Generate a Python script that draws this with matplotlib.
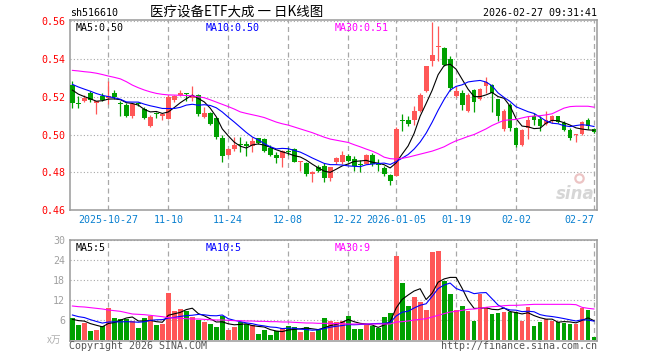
import numpy as np
import pandas as pd
import matplotlib
matplotlib.use('Agg')
import matplotlib.pyplot as plt

# 516610 daily K, 88 trading days 2025-10-17 .. 2026-02-27
opens = [0.5265, 0.5168, 0.5177, 0.5218, 0.5168, 0.5204, 0.5191, 0.5221, 0.5168, 0.5154,
         0.5098, 0.5168, 0.5133, 0.5046, 0.5115, 0.5100, 0.5084, 0.5185, 0.5207, 0.5218,
         0.5193, 0.5208, 0.5095, 0.5112, 0.5090, 0.4982, 0.4893, 0.4923, 0.4952, 0.4948,
         0.4940, 0.4979, 0.4975, 0.4926, 0.4893, 0.4874, 0.4911, 0.4923, 0.4852, 0.4849,
         0.4791, 0.4826, 0.4835, 0.4768, 0.4853, 0.4857, 0.4888, 0.4870, 0.4842, 0.4846,
         0.4891, 0.4842, 0.4823, 0.4783, 0.4780, 0.5078, 0.5077, 0.5075, 0.5125, 0.5230,
         0.5389, 0.5465, 0.5461, 0.5401, 0.5206, 0.5219, 0.5125, 0.5236, 0.5188, 0.5255,
         0.5263, 0.5188, 0.5028, 0.5154, 0.5033, 0.4945, 0.5037, 0.5098, 0.5081, 0.5054,
         0.5072, 0.5098, 0.5063, 0.5025, 0.4998, 0.5002, 0.5077, 0.5028]
highs = [0.5286, 0.5204, 0.5207, 0.5230, 0.5180, 0.5218, 0.5286, 0.5235, 0.5177, 0.5165,
         0.5168, 0.5175, 0.5147, 0.5102, 0.5122, 0.5112, 0.5207, 0.5212, 0.5236, 0.5220,
         0.5256, 0.5214, 0.5147, 0.5120, 0.5095, 0.4996, 0.4928, 0.4985, 0.4988, 0.4967,
         0.4985, 0.4984, 0.4980, 0.4944, 0.4909, 0.4918, 0.4935, 0.4926, 0.4860, 0.4856,
         0.4809, 0.4839, 0.4849, 0.4830, 0.4879, 0.4914, 0.4896, 0.4884, 0.4866, 0.4896,
         0.4900, 0.4870, 0.4835, 0.4791, 0.5042, 0.5108, 0.5098, 0.5150, 0.5218, 0.5365,
         0.5594, 0.5574, 0.5464, 0.5414, 0.5258, 0.5235, 0.5218, 0.5242, 0.5247, 0.5306,
         0.5266, 0.5190, 0.5133, 0.5168, 0.5042, 0.5028, 0.5100, 0.5112, 0.5098, 0.5125,
         0.5102, 0.5100, 0.5072, 0.5037, 0.5004, 0.5072, 0.5089, 0.5037]
lows = [0.5142, 0.5142, 0.5172, 0.5172, 0.5107, 0.5177, 0.5160, 0.5190, 0.5098, 0.5093,
        0.5088, 0.5150, 0.5081, 0.5040, 0.5090, 0.5075, 0.5081, 0.5175, 0.5203, 0.5180,
        0.5180, 0.5100, 0.5086, 0.5049, 0.4975, 0.4856, 0.4890, 0.4915, 0.4905, 0.4888,
        0.4908, 0.4949, 0.4909, 0.4888, 0.4849, 0.4826, 0.4891, 0.4853, 0.4809, 0.4782,
        0.4747, 0.4800, 0.4747, 0.4756, 0.4844, 0.4844, 0.4853, 0.4809, 0.4802, 0.4843,
        0.4832, 0.4809, 0.4782, 0.4735, 0.4778, 0.5020, 0.5046, 0.5050, 0.5120, 0.5226,
        0.5362, 0.5390, 0.5362, 0.5229, 0.5200, 0.5128, 0.5120, 0.5122, 0.5182, 0.5220,
        0.5118, 0.5072, 0.5019, 0.5019, 0.4932, 0.4940, 0.4978, 0.5049, 0.5019, 0.5049,
        0.5063, 0.5063, 0.5019, 0.4972, 0.4961, 0.4996, 0.5028, 0.5007]
closes = [0.5168, 0.5162, 0.5195, 0.5181, 0.5177, 0.5182, 0.5204, 0.5200, 0.5161, 0.5098,
          0.5160, 0.5160, 0.5086, 0.5095, 0.5110, 0.5108, 0.5200, 0.5203, 0.5222, 0.5215,
          0.5205, 0.5110, 0.5112, 0.5054, 0.4989, 0.4884, 0.4925, 0.4946, 0.4947, 0.4940,
          0.4965, 0.4953, 0.4914, 0.4891, 0.4874, 0.4911, 0.4907, 0.4856, 0.4858, 0.4791,
          0.4804, 0.4809, 0.4768, 0.4826, 0.4874, 0.4891, 0.4861, 0.4835, 0.4838, 0.4891,
          0.4842, 0.4836, 0.4793, 0.4752, 0.5027, 0.5072, 0.5055, 0.5125, 0.5208, 0.5362,
          0.5420, 0.5471, 0.5366, 0.5245, 0.5229, 0.5154, 0.5207, 0.5170, 0.5243, 0.5277,
          0.5219, 0.5096, 0.5125, 0.5035, 0.4945, 0.5023, 0.5077, 0.5077, 0.5046, 0.5077,
          0.5098, 0.5067, 0.5025, 0.4984, 0.5002, 0.5067, 0.5046, 0.5014]
volumes = [6.5, 4.6, 5.2, 2.8, 3.0, 4.2, 9.6, 6.6, 6.2, 6.4,
           5.7, 3.6, 6.5, 7.2, 4.5, 4.8, 14.1, 8.7, 9.3, 8.7,
           6.9, 6.0, 5.4, 4.8, 3.9, 7.2, 3.0, 3.9, 5.4, 4.8,
           4.5, 1.8, 3.0, 1.5, 2.7, 3.6, 4.2, 3.9, 2.4, 3.9,
           2.4, 3.0, 6.6, 5.7, 5.5, 5.7, 7.2, 3.3, 3.3, 4.5,
           4.2, 3.6, 6.9, 8.1, 25.2, 17.1, 10.2, 12.9, 11.5, 9.0,
           26.5, 26.8, 17.8, 13.8, 9.0, 10.2, 8.7, 5.7, 13.9, 9.9,
           7.8, 8.1, 8.4, 8.5, 8.3, 5.8, 9.9, 4.1, 5.3, 6.2,
           5.8, 5.3, 5.0, 4.8, 4.8, 9.5, 9.1, 0.8]
# MA30 lines need a month of history that is not on the chart, so read them directly
ma30_price = [0.5340, 0.5337, 0.5333, 0.5330, 0.5325, 0.5318, 0.5310, 0.5303, 0.5295, 0.5280,
              0.5262, 0.5248, 0.5236, 0.5226, 0.5218, 0.5213, 0.5210, 0.5209, 0.5208, 0.5207,
              0.5205, 0.5200, 0.5195, 0.5184, 0.5172, 0.5160, 0.5148, 0.5135, 0.5120, 0.5112,
              0.5105, 0.5098, 0.5090, 0.5078, 0.5066, 0.5057, 0.5050, 0.5040, 0.5030, 0.5020,
              0.5010, 0.4998, 0.4986, 0.4976, 0.4970, 0.4964, 0.4958, 0.4946, 0.4935, 0.4923,
              0.4912, 0.4898, 0.4880, 0.4872, 0.4870, 0.4874, 0.4880, 0.4888, 0.4896, 0.4904,
              0.4912, 0.4923, 0.4935, 0.4952, 0.4967, 0.4978, 0.4990, 0.5000, 0.5015, 0.5030,
              0.5048, 0.5062, 0.5075, 0.5078, 0.5080, 0.5088, 0.5095, 0.5098, 0.5100, 0.5104,
              0.5110, 0.5125, 0.5140, 0.5148, 0.5150, 0.5150, 0.5150, 0.5145]
ma30_vol = [10.2, 10.0, 9.9, 9.7, 9.5, 9.3, 9.0, 8.8, 8.6, 8.2,
            7.8, 7.7, 7.6, 7.4, 7.2, 7.0, 6.7, 6.6, 6.5, 6.4,
            6.3, 6.3, 6.2, 6.1, 6.0, 6.0, 5.9, 5.8, 5.8, 5.7,
            5.7, 5.6, 5.6, 5.5, 5.5, 5.4, 5.4, 5.3, 5.2, 5.1,
            5.1, 5.0, 5.0, 5.0, 4.9, 4.9, 4.8, 4.8, 4.8, 4.8,
            4.8, 4.8, 4.8, 4.8, 5.4, 5.5, 5.7, 6.0, 6.2, 6.4,
            6.9, 7.4, 7.9, 8.4, 8.6, 8.9, 9.2, 9.3, 9.5, 9.8,
            10.0, 10.1, 10.3, 10.4, 10.4, 10.5, 10.6, 10.7, 10.7, 10.7,
            10.7, 10.7, 10.7, 10.7, 10.6, 9.8, 9.5, 9.3]
# 9 sessions before the window, estimated from where MA5 / MA10 start
prior_closes = [0.5300, 0.5310, 0.5290, 0.5300, 0.5280, 0.5270, 0.5260, 0.5240, 0.5240]
prior_volumes = [9.5, 8.0, 9.0, 8.5, 9.0, 6.5, 6.0, 6.5, 5.5]

tick_idx = [6, 16, 26, 36, 46, 54, 64, 74, 87]
tick_labels = ['2025-10-27', '11-10', '11-24', '12-08', '12-22', '2026-01-05', '01-19', '02-02', '02-27']
price_ticks = [0.46, 0.48, 0.50, 0.52, 0.54, 0.56]
vol_ticks = [6, 12, 18, 24, 30]

RED = '#ff5757'
GREEN = '#00a000'
GRID = '#a8a8a8'
MONO = 'DejaVu Sans Mono'
CJK = ['Noto Sans CJK SC', 'DejaVu Sans']

W, H = 660, 360
def px(x, y):
    return x / W, 1 - y / H

o = np.array(opens)
c = np.array(closes)
hi = np.array(highs)
lo = np.array(lows)
v = np.array(volumes)
x = np.arange(len(c))
colors = np.where(c >= o, RED, GREEN)

n0 = len(prior_closes)
call = pd.Series(prior_closes + closes)
ma5 = call.rolling(5).mean().values[n0:]
ma10 = call.rolling(10).mean().values[n0:]
vall = pd.Series(prior_volumes + volumes)
vma5 = vall.rolling(5).mean().values[n0:]
vma10 = vall.rolling(10).mean().values[n0:]

fig = plt.figure(figsize=(W / 100, H / 100), dpi=100)
fig.patch.set_facecolor('white')
ax = fig.add_axes([70 / W, 1 - 210 / H, 527 / W, 190 / H])
axv = fig.add_axes([70 / W, 1 - 341 / H, 527 / W, 101 / H])

for a in (ax, axv):
    a.set_xlim(-0.4, 87.5)
    for s in a.spines.values():
        s.set_color('#9a9a9a')
        s.set_linewidth(1.1)
    a.set_xticks(tick_idx)
    a.tick_params(length=0)
    a.grid(axis='x', color=GRID, lw=0.9, ls=(0, (4, 2.8)))
    a.grid(axis='y', color=GRID, lw=0.8, ls=(0, (1, 2)))
    a.set_axisbelow(True)

# price panel
ax.set_ylim(0.4604, 0.5607)
ax.set_yticks(price_ticks)
ax.set_yticklabels([f'{p:.2f}' for p in price_ticks], color='red', fontsize=7.2, family=MONO)
ax.set_xticklabels(tick_labels, color='#0a80d0', fontsize=7.2, family=MONO)
ax.tick_params(axis='y', pad=3.5)
ax.tick_params(axis='x', pad=3.5)
ax.get_xticklabels()[-1].set_ha('right')

minh = (0.5607 - 0.4604) / 190
ax.vlines(x, lo, hi, colors=colors, lw=0.9, zorder=2)
ax.bar(x, np.maximum(np.abs(c - o), minh), bottom=np.minimum(o, c), width=0.8,
       color=colors, lw=0, zorder=3)
ax.plot(x, ma5, color='black', lw=0.8, zorder=4)
ax.plot(x, ma10, color='#0000ff', lw=0.8, zorder=4)
ax.plot(x, ma30_price, color='#ff00ff', lw=0.8, zorder=4)

ax.text(0.01, 0.985, f'MA5:{ma5[-1]:.2f}', transform=ax.transAxes, va='top',
        fontsize=7.2, family=MONO, color='black')
ax.text(0.257, 0.985, f'MA10:{ma10[-1]:.2f}', transform=ax.transAxes, va='top',
        fontsize=7.2, family=MONO, color='#0000ff')
ax.text(0.503, 0.985, f'MA30:{ma30_price[-1]:.2f}', transform=ax.transAxes, va='top',
        fontsize=7.2, family=MONO, color='#ff00ff')

# sina watermark
ax.text(0.995, 0.035, 'sina', transform=ax.transAxes, ha='right', va='bottom',
        fontsize=12, fontweight='bold', style='italic', color='#d6d6d6', zorder=1)
ax.plot([0.965], [0.17], 'o', transform=ax.transAxes, ms=6, mfc='none',
        mec='#ecc4c4', mew=1.6, zorder=1)

# volume panel
axv.set_ylim(-0.3, 30)
axv.set_yticks(vol_ticks)
axv.set_yticklabels([str(t) for t in vol_ticks], color='#a0a0a0', fontsize=7.2, family=MONO)
axv.set_xticklabels([])
axv.tick_params(axis='y', pad=3.5)
axv.bar(x, v, width=0.8, color=colors, lw=0, zorder=3)
axv.plot(x, vma5, color='black', lw=0.8, zorder=4)
axv.plot(x, vma10, color='#0000ff', lw=0.8, zorder=4)
axv.plot(x, ma30_vol, color='#ff00ff', lw=0.8, zorder=4)

axv.text(0.01, 0.97, f'MA5:{int(vma5[-1])}', transform=axv.transAxes, va='top',
         fontsize=7.2, family=MONO, color='black')
axv.text(0.257, 0.97, f'MA10:{int(vma10[-1])}', transform=axv.transAxes, va='top',
         fontsize=7.2, family=MONO, color='#0000ff')
axv.text(0.503, 0.97, f'MA30:{int(ma30_vol[-1])}', transform=axv.transAxes, va='top',
         fontsize=7.2, family=MONO, color='#ff00ff')

# header and footer
fig.text(*px(70, 13.5), 'sh516610', fontsize=7.2, family=MONO, va='center')
fig.text(*px(150, 13), '医疗设备ETF大成 一 日K线图', fontsize=9.7, family=CJK, va='center')
fig.text(*px(597, 13.5), '2026-02-27 09:31:41', fontsize=7.2, family=MONO, va='center', ha='right')
fig.text(*px(47, 340), 'x万', fontsize=7, family=CJK, va='center', color='#b0b0b0', style='italic')
fig.text(*px(69, 346), 'Copyright 2026 SINA.COM', fontsize=7.2, family=MONO, va='center', color='#555555')
fig.text(*px(597, 346), 'http://finance.sina.com.cn', fontsize=7.2, family=MONO, va='center',
         ha='right', color='#555555')

fig.savefig('out.png', dpi=100)
